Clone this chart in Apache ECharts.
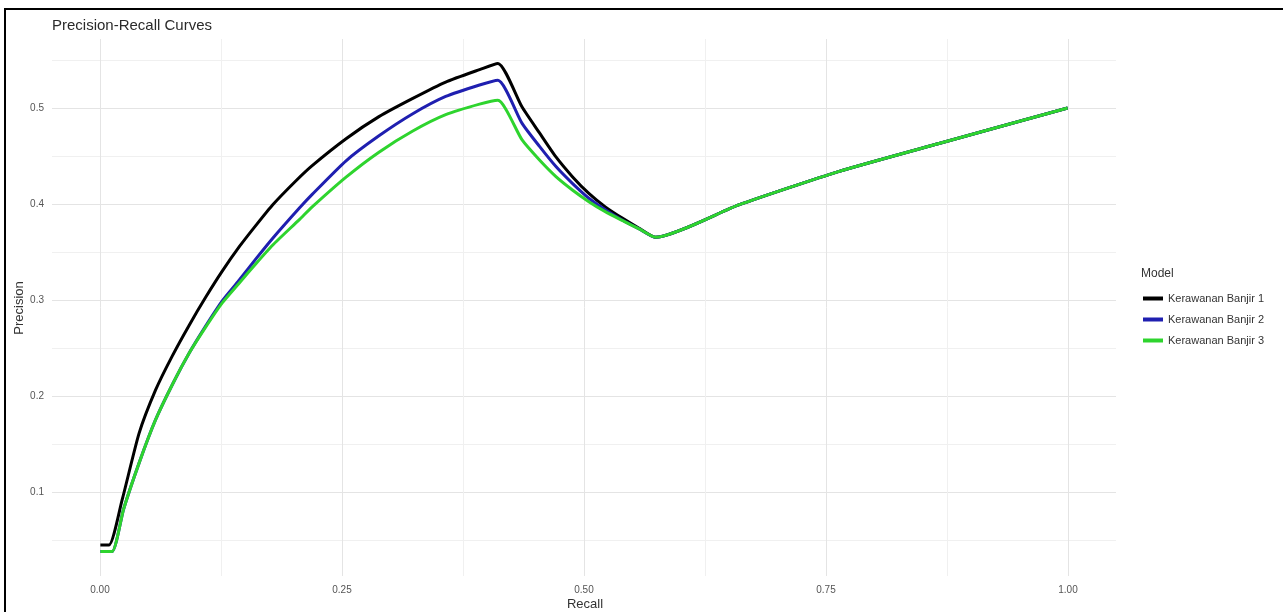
<!DOCTYPE html>
<html>
<head>
<meta charset="utf-8">
<script src="https://cdn.jsdelivr.net/npm/echarts@6/dist/echarts.min.js"></script>
<style>
html,body{margin:0;padding:0;background:#fff;overflow:hidden;}
#chart{position:absolute;left:0;top:0;width:1283px;height:612px;}
#frame{position:absolute;left:4px;top:8px;width:1400px;height:800px;border-top:2px solid #000;border-left:2px solid #000;pointer-events:none;}
</style>
</head>
<body>
<div id="chart"></div>
<div id="frame"></div>
<script>
// ---- data ----
const seriesNames = ['Kerawanan Banjir 1', 'Kerawanan Banjir 2', 'Kerawanan Banjir 3'];

const recall1 = [0, 0.009, 0.0225, 0.040, 0.057, 0.074, 0.092, 0.109, 0.126, 0.144, 0.161, 0.178, 0.202, 0.219, 0.254, 0.288, 0.323, 0.357, 0.392, 0.411,
                 0.436, 0.454, 0.471, 0.488, 0.505, 0.522, 0.540, 0.557, 0.574, 0.660, 0.763, 0.867, 1.0];
const precision1 = [0.0448, 0.0448, 0.0917, 0.161, 0.206, 0.241, 0.274, 0.303, 0.330, 0.356, 0.378, 0.399, 0.424, 0.440, 0.468, 0.491, 0.510, 0.527, 0.540, 0.5465,
                    0.501, 0.474, 0.449, 0.4285, 0.411, 0.397, 0.385, 0.3747, 0.3653, 0.399, 0.4337, 0.463, 0.500];

const recall2 = [0, 0.012, 0.024, 0.040, 0.057, 0.075, 0.092, 0.109, 0.126, 0.143, 0.161, 0.178, 0.206, 0.219, 0.254, 0.288, 0.323, 0.357, 0.392, 0.411,
                 0.436, 0.454, 0.471, 0.488, 0.505, 0.522, 0.540, 0.557, 0.574, 0.660, 0.763, 0.867, 1.0];
const precision2 = [0.0378, 0.0378, 0.082, 0.130, 0.175, 0.213, 0.245, 0.273, 0.299, 0.320, 0.343, 0.364, 0.396, 0.410, 0.445, 0.471, 0.494, 0.512, 0.524, 0.529,
                    0.484, 0.460, 0.439, 0.4215, 0.406, 0.394, 0.383, 0.374, 0.3653, 0.399, 0.4337, 0.463, 0.500];

const recall3 = [0, 0.012, 0.024, 0.040, 0.057, 0.075, 0.092, 0.109, 0.126, 0.143, 0.161, 0.178, 0.206, 0.219, 0.254, 0.288, 0.323, 0.357, 0.392, 0.411,
                 0.436, 0.454, 0.471, 0.488, 0.505, 0.522, 0.540, 0.557, 0.574, 0.660, 0.763, 0.867, 1.0];
const precision3 = [0.0378, 0.0378, 0.082, 0.130, 0.175, 0.213, 0.245, 0.272, 0.297, 0.317, 0.338, 0.357, 0.384, 0.397, 0.428, 0.454, 0.476, 0.493, 0.504, 0.508,
                    0.4667, 0.4458, 0.4285, 0.4146, 0.4024, 0.392, 0.3826, 0.374, 0.3653, 0.399, 0.4337, 0.463, 0.500];

const xTicks = [0, 0.25, 0.5, 0.75, 1.0];
const yTicks = [0.1, 0.2, 0.3, 0.4, 0.5];
const colors = ['#000000', '#1f1fb0', '#2ed42e'];

// ---- build ----
function pairs(xs, ys) { return xs.map((x, i) => [x, ys[i]]); }
const allData = [pairs(recall1, precision1), pairs(recall2, precision2), pairs(recall3, precision3)];

function isTick(v, list) { return list.some(t => Math.abs(t - v) < 1e-6); }

const FONT = 'Liberation Sans, Arial, sans-serif';
const chart = echarts.init(document.getElementById('chart'), null, {renderer: 'canvas'});

const panelLeft = 52, panelRight = 1283 - 1116, panelTop = 39, panelBottom = 612 - 576;

const option = {
  animation: false,
  backgroundColor: '#ffffff',
  textStyle: {fontFamily: FONT},
  title: {
    text: 'Precision-Recall Curves',
    left: 52, top: 18, padding: 0,
    textStyle: {fontSize: 15, fontWeight: 'normal', color: '#2a2a2a', fontFamily: FONT}
  },
  legend: {
    orient: 'vertical',
    left: 1138, top: 287,
    icon: 'rect',
    itemWidth: 20, itemHeight: 4,
    itemGap: 8,
    textStyle: {fontSize: 11, color: '#333', lineHeight: 13, fontFamily: FONT},
    data: seriesNames
  },
  graphic: [
    {type: 'text', left: 1141, top: 268, style: {text: 'Model', fontSize: 12, fill: '#333', fontFamily: FONT}},
    {type: 'text', x: 585, y: 604, style: {text: 'Recall', fontSize: 13, fill: '#333', fontFamily: FONT, align: 'center', verticalAlign: 'middle'}},
    {type: 'text', x: 19, y: 308, rotation: Math.PI / 2, style: {text: 'Precision', fontSize: 13, fill: '#333', fontFamily: FONT, align: 'center', verticalAlign: 'middle'}}
  ],
  grid: [
    {left: panelLeft, right: panelRight, top: panelTop, bottom: panelBottom},
    {left: 100, width: 968, top: panelTop, bottom: panelBottom},
    {left: panelLeft, right: panelRight, top: 60, height: 480}
  ],
  xAxis: [
    {gridIndex: 0, type: 'value', min: -0.05, max: 1.05, show: false},
    {gridIndex: 1, type: 'value', min: 0, max: 1, interval: 0.125,
     axisLine: {show: false}, axisTick: {show: false},
     axisLabel: {show: true, margin: 9, fontSize: 10, color: '#555', fontFamily: FONT,
                 formatter: v => isTick(v, xTicks) ? v.toFixed(2) : ''},
     splitLine: {show: true, lineStyle: {color: ['#e4e4e4', '#f0f0f0'], width: 1}}},
    {gridIndex: 2, type: 'value', min: 0, max: 1, show: false}
  ],
  yAxis: [
    {gridIndex: 0, type: 'value', min: 0.0124, max: 0.5719, show: false},
    {gridIndex: 1, type: 'value', min: 0, max: 1, show: false},
    {gridIndex: 2, type: 'value', min: 0.05, max: 0.55, interval: 0.05,
     axisLine: {show: false}, axisTick: {show: false},
     axisLabel: {show: true, margin: 8, fontSize: 10, color: '#555', fontFamily: FONT,
                 formatter: v => isTick(v, yTicks) ? v.toFixed(1) : ''},
     splitLine: {show: true, lineStyle: {color: ['#f0f0f0', '#e4e4e4'], width: 1}}}
  ],
  series: seriesNames.map((name, i) => ({
    name: name,
    type: 'line',
    xAxisIndex: 0, yAxisIndex: 0,
    data: allData[i],
    showSymbol: false,
    symbol: 'none',
    smooth: 0.2,
    color: colors[i],
    lineStyle: {width: 3, color: colors[i], join: 'round'},
    z: 2 + i
  }))
};
chart.setOption(option);
</script>
</body>
</html>
